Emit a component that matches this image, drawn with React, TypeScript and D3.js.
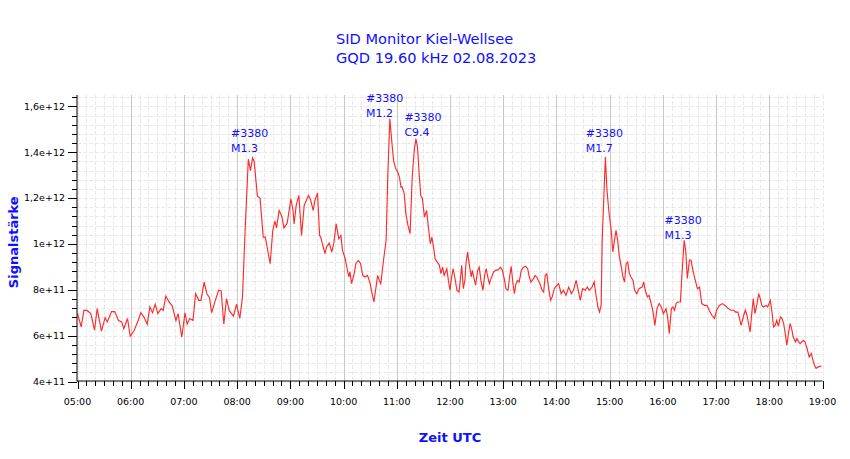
import React, { useEffect, useRef } from 'react'
import * as d3 from 'd3'

// time in decimal hours (UTC), signal in units of 1e11
const hours = [
  5.00, 5.07, 5.12, 5.18, 5.25, 5.32, 5.37, 5.45, 5.52, 5.56, 5.64, 5.70, 5.77, 5.83, 5.87, 5.94, 5.99,
  6.06, 6.14, 6.19, 6.25, 6.31, 6.36, 6.41, 6.46, 6.51, 6.57, 6.61, 6.66, 6.72, 6.78, 6.85, 6.89, 6.96,
  7.02, 7.06, 7.11, 7.17, 7.22, 7.28, 7.32, 7.38, 7.43, 7.48, 7.52, 7.59, 7.65, 7.70, 7.75, 7.80, 7.85, 7.93, 7.99,
  8.05, 8.10, 8.15, 8.21, 8.25, 8.29, 8.32, 8.38, 8.43, 8.49, 8.53, 8.58, 8.62, 8.67, 8.71, 8.74, 8.79, 8.84, 8.88, 8.94,
  9.01, 9.05, 9.07, 9.11, 9.16, 9.21, 9.26, 9.30, 9.34, 9.38, 9.43, 9.46, 9.51, 9.55, 9.57, 9.65, 9.68, 9.73, 9.78, 9.82, 9.86, 9.91, 9.95, 9.98,
  10.03, 10.06, 10.10, 10.12, 10.15, 10.20, 10.23, 10.28, 10.32, 10.36, 10.40, 10.45, 10.50, 10.53, 10.57, 10.61, 10.64, 10.67, 10.70, 10.75, 10.80, 10.83, 10.87, 10.91, 10.94, 10.98,
  11.02, 11.05, 11.08, 11.10, 11.14, 11.17, 11.21, 11.25, 11.29, 11.33, 11.36, 11.39, 11.42, 11.45, 11.48, 11.52, 11.56, 11.59, 11.63, 11.66, 11.69, 11.72, 11.76, 11.80, 11.83, 11.86, 11.89, 11.94, 11.97,
  12.00, 12.03, 12.06, 12.10, 12.13, 12.17, 12.20, 12.22, 12.25, 12.28, 12.30, 12.33, 12.36, 12.40, 12.42, 12.46, 12.48, 12.52, 12.55, 12.58, 12.62, 12.65, 12.68, 12.71, 12.74, 12.77, 12.82, 12.86, 12.91, 12.95, 12.98,
  13.02, 13.05, 13.09, 13.12, 13.15, 13.18, 13.21, 13.24, 13.27, 13.30, 13.34, 13.38, 13.42, 13.46, 13.49, 13.52, 13.57, 13.60, 13.63, 13.66, 13.69, 13.73, 13.76, 13.79, 13.82, 13.85, 13.89, 13.92, 13.96, 13.98,
  14.04, 14.09, 14.13, 14.18, 14.23, 14.28, 14.32, 14.37, 14.41, 14.45, 14.49, 14.54, 14.58, 14.62, 14.67, 14.71, 14.74, 14.78, 14.81, 14.84, 14.86, 14.92, 14.95, 14.99,
  15.03, 15.06, 15.09, 15.12, 15.15, 15.18, 15.22, 15.25, 15.28, 15.31, 15.34, 15.37, 15.40, 15.44, 15.47, 15.51, 15.55, 15.61, 15.64, 15.67, 15.71, 15.74, 15.78, 15.81, 15.85, 15.89, 15.93, 15.97,
  16.01, 16.06, 16.09, 16.12, 16.16, 16.19, 16.22, 16.25, 16.28, 16.33, 16.36, 16.40, 16.43, 16.46, 16.50, 16.53, 16.56, 16.60, 16.65, 16.69, 16.73, 16.78, 16.83, 16.87, 16.92, 16.97,
  17.01, 17.06, 17.12, 17.17, 17.23, 17.28, 17.33, 17.37, 17.41, 17.44, 17.47, 17.52, 17.55, 17.58, 17.61, 17.64, 17.67, 17.70, 17.73, 17.77, 17.80, 17.83, 17.86, 17.89, 17.94, 17.97,
  18.02, 18.05, 18.08, 18.11, 18.14, 18.17, 18.21, 18.24, 18.27, 18.30, 18.33, 18.36, 18.39, 18.42, 18.45, 18.49, 18.52, 18.55, 18.58, 18.61, 18.64, 18.67, 18.71, 18.75, 18.79, 18.82, 18.85, 18.88, 18.92, 18.98,
]

const signal = [
  6.96, 6.38, 7.10, 7.10, 6.96, 6.24, 7.18, 6.20, 6.79, 6.60, 7.05, 7.05, 6.66, 6.60, 6.30, 6.75, 5.97,
  6.20, 6.66, 7.00, 6.80, 6.50, 7.25, 7.00, 7.37, 6.96, 7.18, 7.10, 7.72, 7.47, 7.30, 6.66, 6.96, 5.94,
  7.00, 6.50, 6.75, 6.66, 7.83, 7.54, 7.54, 8.34, 7.83, 7.67, 7.00, 7.54, 7.98, 7.95, 6.50, 7.62, 7.10, 6.85, 7.37,
  6.75, 7.67, 10.60, 13.70, 13.20, 13.75, 13.60, 12.10, 12.00, 10.30, 10.30, 9.65, 9.14, 10.60, 11.00, 10.70, 11.46, 11.20, 10.70, 10.90,
  11.97, 11.46, 10.88, 11.68, 12.12, 10.37, 11.68, 11.90, 12.12, 11.93, 11.46, 11.90, 12.22, 10.37, 10.30, 9.58, 9.87, 10.04, 9.65, 10.08, 10.88, 10.23, 10.37, 9.72,
  9.36, 8.99, 8.56, 8.78, 8.27, 8.71, 9.14, 9.28, 9.14, 8.63, 8.56, 8.63, 8.27, 7.90, 7.47, 8.12, 8.63, 8.42, 8.27, 9.28, 10.16, 12.92, 15.46, 14.37, 13.64, 13.28,
  13.13, 12.92, 12.48, 12.50, 12.19, 11.32, 10.81, 10.45, 12.92, 14.15, 14.59, 14.22, 13.06, 12.12, 12.00, 11.17, 11.46, 10.81, 10.01, 10.30, 9.87, 9.36, 9.21, 9.07, 8.71, 8.99, 8.63, 8.92, 8.41,
  7.98, 8.56, 8.92, 8.41, 7.98, 7.90, 8.56, 9.07, 8.05, 8.41, 9.14, 9.65, 9.14, 8.56, 8.85, 8.41, 8.20, 8.85, 8.99, 8.41, 7.98, 8.63, 8.92, 8.56, 8.27, 8.49, 8.78, 8.85, 8.88, 8.99, 8.88,
  8.49, 8.05, 7.98, 8.56, 9.03, 8.34, 7.83, 8.27, 8.41, 8.34, 8.85, 8.99, 9.03, 8.92, 8.56, 8.34, 8.49, 8.63, 8.56, 8.41, 8.27, 7.98, 7.90, 8.63, 8.70, 8.12, 7.54, 7.69, 8.05, 8.12,
  8.27, 7.83, 7.98, 7.76, 8.12, 7.83, 7.98, 8.41, 7.98, 7.54, 8.05, 7.98, 8.12, 7.98, 8.12, 8.34, 7.83, 7.25, 7.03, 7.32, 10.16, 13.79, 12.34, 11.32,
  10.59, 9.65, 10.16, 10.59, 10.16, 9.50, 8.99, 8.56, 8.34, 9.14, 9.21, 8.71, 8.56, 8.41, 7.98, 7.83, 8.05, 8.12, 8.34, 7.98, 7.69, 7.76, 7.40, 7.11, 6.45, 7.18, 7.40, 7.25,
  6.96, 7.18, 6.81, 6.09, 7.18, 7.25, 7.11, 7.40, 7.47, 7.47, 8.71, 10.16, 9.70, 8.50, 9.30, 9.30, 8.90, 8.50, 8.05, 8.12, 7.40, 7.32, 7.32, 7.11, 6.89, 6.75,
  7.11, 7.32, 7.40, 7.32, 7.18, 7.11, 7.11, 7.03, 7.03, 6.75, 6.45, 6.89, 7.11, 6.89, 6.53, 6.16, 6.96, 7.62, 6.96, 7.40, 7.83, 7.62, 7.32, 7.25, 7.32, 7.25,
  7.54, 7.03, 6.38, 6.45, 6.67, 6.42, 6.82, 6.75, 6.53, 6.09, 5.58, 6.09, 6.53, 6.31, 5.94, 5.73, 5.87, 5.73, 5.65, 5.73, 5.80, 5.73, 5.44, 5.07, 5.22, 4.93, 4.71, 4.57, 4.64, 4.67,
]

// flare annotations: label anchor (hour, value in 1e11) and text
const flareHours = [7.885, 10.423, 11.143, 14.553, 16.03]
const flareLevels = [14.03, 15.56, 14.73, 14.03, 10.23]
const flareRegions = ['#3380', '#3380', '#3380', '#3380', '#3380']
const flareClasses = ['M1.3', 'M1.2', 'C9.4', 'M1.7', 'M1.3']

const yTicks = [4e11, 6e11, 8e11, 1e12, 1.2e12, 1.4e12, 1.6e12]
const titleLines = ['SID Monitor Kiel-Wellsee', 'GQD 19.60 kHz 02.08.2023']

const W = 850
const H = 459
const FONT = "'DejaVu Sans', sans-serif"
const BLUE = '#1010ff'

const fmtSci = (v: number) => {
  const e = Math.floor(Math.log10(v) + 1e-9)
  const m = Math.round((v / Math.pow(10, e)) * 10) / 10
  return `${String(m).replace('.', ',')}e+${e}`
}
const fmtHour = (h: number) => `${String(Math.round(h)).padStart(2, '0')}:00`

const SidChart: React.FC = () => {
  const svgRef = useRef<SVGSVGElement>(null)

  useEffect(() => {
    if (!svgRef.current) return
    const svg = d3.select(svgRef.current)
    svg.selectAll('*').remove()

    const left = 77.5, right = 822.5, top = 95, bottom = 381.5

    const x = d3.scaleLinear().domain([5, 19]).range([left, right])
    const y = d3.scaleLinear().domain([4e11, 1.65e12]).range([bottom, top])

    svg.append('rect').attr('width', W).attr('height', H).attr('fill', '#fff')

    // dashed minor grid
    const minorX = d3.range(0, 14 * 6 + 1).map(i => 5 + i / 6)
    const minorY = d3.range(0, 32).map(i => 4e11 + i * 4e10).filter(v => v <= 1.65e12)

    const grid = svg.append('g')
    grid.selectAll('line.mx')
      .data(minorX)
      .enter().append('line')
      .attr('x1', d => Math.round(x(d)) + 0.5).attr('x2', d => Math.round(x(d)) + 0.5)
      .attr('y1', top).attr('y2', bottom)
      .attr('stroke', '#e8e8e8').attr('stroke-dasharray', '4,2')
    grid.selectAll('line.my')
      .data(minorY)
      .enter().append('line')
      .attr('x1', left).attr('x2', right)
      .attr('y1', d => Math.round(y(d)) + 0.5).attr('y2', d => Math.round(y(d)) + 0.5)
      .attr('stroke', '#e8e8e8').attr('stroke-dasharray', '4,2')

    // solid hour lines
    grid.selectAll('line.hx')
      .data(d3.range(6, 19))
      .enter().append('line')
      .attr('x1', d => Math.round(x(d)) + 0.5).attr('x2', d => Math.round(x(d)) + 0.5)
      .attr('y1', top).attr('y2', bottom)
      .attr('stroke', '#c8c8c8')

    // signal line
    const pts = hours.map((h, i) => [h, signal[i] * 1e11] as [number, number])
    const line = d3.line<[number, number]>()
      .x(d => x(d[0]))
      .y(d => y(d[1]))
    svg.append('path')
      .datum(pts)
      .attr('fill', 'none')
      .attr('stroke', '#ff2a2a')
      .attr('stroke-width', 1.15)
      .attr('d', line)

    // axes
    const yAxis = svg.append('g').attr('transform', `translate(${left - 0.5},0)`)
    yAxis.append('line').attr('y1', top).attr('y2', bottom).attr('stroke', '#000')
    yAxis.selectAll('line.minor')
      .data(minorY)
      .enter().append('line')
      .attr('x1', -5).attr('x2', 0)
      .attr('y1', d => Math.round(y(d)) + 0.5).attr('y2', d => Math.round(y(d)) + 0.5)
      .attr('stroke', '#000')
    yAxis.selectAll('line.major')
      .data(yTicks)
      .enter().append('line')
      .attr('x1', -9).attr('x2', 0)
      .attr('y1', d => Math.round(y(d)) + 0.5).attr('y2', d => Math.round(y(d)) + 0.5)
      .attr('stroke', '#000')
    yAxis.selectAll('text')
      .data(yTicks)
      .enter().append('text')
      .attr('x', -12)
      .attr('y', d => y(d))
      .attr('dy', '0.35em')
      .attr('text-anchor', 'end')
      .style('font-family', FONT)
      .style('font-size', '9.5px')
      .text(d => fmtSci(d))

    const xAxis = svg.append('g').attr('transform', `translate(0,${bottom - 0.5})`)
    xAxis.append('line').attr('x1', left - 0.5).attr('x2', right).attr('stroke', '#000')
    xAxis.selectAll('line.minor')
      .data(minorX)
      .enter().append('line')
      .attr('x1', d => Math.round(x(d)) + 0.5).attr('x2', d => Math.round(x(d)) + 0.5)
      .attr('y1', 0).attr('y2', 5)
      .attr('stroke', '#000')
    xAxis.selectAll('line.major')
      .data(d3.range(5, 20))
      .enter().append('line')
      .attr('x1', d => Math.round(x(d)) + 0.5).attr('x2', d => Math.round(x(d)) + 0.5)
      .attr('y1', 0).attr('y2', 8)
      .attr('stroke', '#000')
    xAxis.selectAll('text')
      .data(d3.range(5, 20))
      .enter().append('text')
      .attr('x', d => x(d))
      .attr('y', 24)
      .attr('text-anchor', 'middle')
      .style('font-family', FONT)
      .style('font-size', '9.5px')
      .text(d => fmtHour(d))

    // flare labels
    const ann = svg.append('g')
      .style('font-family', FONT)
      .style('font-size', '11px')
      .attr('fill', BLUE)
    flareHours.forEach((h, i) => {
      const t = ann.append('text')
        .attr('x', x(h))
        .attr('y', y(flareLevels[i] * 1e11))
      t.append('tspan').attr('x', x(h)).attr('dy', -14.5).text(flareRegions[i])
      t.append('tspan').attr('x', x(h)).attr('dy', 14.5).text(flareClasses[i])
    })

    // titles
    svg.selectAll('text.title')
      .data(titleLines)
      .enter().append('text')
      .attr('x', 336)
      .attr('y', (d, i) => 43.5 + i * 19.5)
      .attr('fill', BLUE)
      .style('font-family', FONT)
      .style('font-size', '14.6px')
      .text(d => d)

    svg.append('text')
      .attr('transform', `translate(17.5,${(top + bottom) / 2 + 4}) rotate(-90)`)
      .attr('text-anchor', 'middle')
      .attr('fill', BLUE)
      .style('font-family', FONT)
      .style('font-size', '13px')
      .style('font-weight', 'bold')
      .text('Signalstärke')

    svg.append('text')
      .attr('x', (left + right) / 2)
      .attr('y', 442)
      .attr('text-anchor', 'middle')
      .attr('fill', BLUE)
      .style('font-family', FONT)
      .style('font-size', '13px')
      .style('font-weight', 'bold')
      .text('Zeit UTC')
  }, [])

  return <svg ref={svgRef} width={W} height={H} style={{ display: 'block' }} />
}

export default function App() {
  return (
    <div style={{ position: 'absolute', left: 0, top: 0, background: '#fff' }}>
      <SidChart />
    </div>
  )
}
